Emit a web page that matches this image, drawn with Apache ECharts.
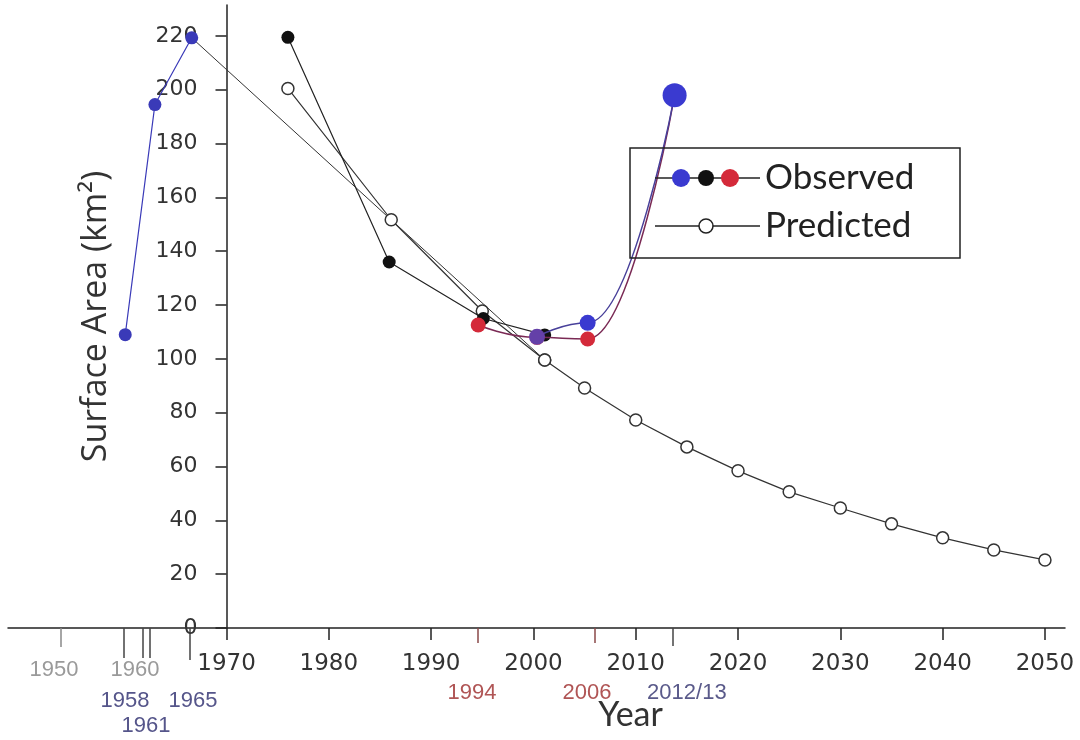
<!DOCTYPE html>
<html><head><meta charset="utf-8">
<script src="https://cdn.jsdelivr.net/npm/echarts@6/dist/echarts.min.js"></script>
<style>html,body{margin:0;padding:0;background:#fff}#c{width:1080px;height:740px}</style>
</head><body><div id="c"></div>
<script>
// x values are read in the units of the drawn year axis (1970–2050 decade scale)
const blueEarly      = [[1960.1,109],[1963.0,194.5],[1966.6,219.3]];
const predictedLink  = [[1966.6,219.3],[2001.1,99.6]];
const blackObserved  = [[1976.0,219.5],[1985.9,136],[1995.1,115],[2001.1,108.9]];
const redObserved    = [[1994.6,112.6],[2000.35,108],[2005.3,107.4],[2013.8,198]];
const blueLate       = [[2000.35,108.2],[2005.3,113.4],[2013.8,198]];
const predictedEarly = [[1976.0,200.5],[1986.1,151.7],[1995.0,117.8],[2001.1,99.6]];
const predictedYears = [2001.1,2005,2010,2015,2020,2025,2030,2035,2040,2045,2050];
const predictedVals  = [99.6,89.2,77.3,67.3,58.4,50.6,44.6,38.7,33.5,29.0,25.3];

const yTicks      = [0,20,40,60,80,100,120,140,160,180,200,220];
const decadeTicks = [1970,1980,1990,2000,2010,2020,2030,2040,2050];
const grayTickPos = [1953.82];
const grayLabelPos = [1953.14,1961.06];
const grayLabelText = ['1950','1960'];
const earlyTickPos = [1960.0,1961.84,1962.52];
const earlyLabelPos = [1960.08,1966.73];
const earlyLabelText = ['1958','1965'];
const tick1965Pos = [1966.43];
const label1961Pos = [1962.13];
const label1961Text = ['1961'];
const redTickPos = [1994.58,2006.0];
const redLabelPos = [1994.0,2005.24];
const redLabelText = ['1994','2006'];
const lateTickPos = [2013.64];
const lateLabelPos = [2015.0];
const lateLabelText = ['2012/13'];

const XMIN = 1948.64, XMAX = 2051.96;
function lookup(pos, text){
  return function(v){
    let best = 0, d = Infinity;
    pos.forEach((p,i)=>{ const dd = Math.abs(p - v); if (dd < d){ d = dd; best = i; } });
    return text[best];
  };
}
function extraAxis(tickPos, tickLen, tickColor, labelPos, labelText, labelColor, margin, font, size){
  return {
    type:'value', gridIndex:0, min:XMIN, max:XMAX, position:'bottom',
    axisLine:{show:false, onZero:false},
    splitLine:{show:false},
    axisTick:{show:tickPos.length>0, length:tickLen, customValues:tickPos,
      lineStyle:{color:tickColor, width:1.5}},
    axisLabel:{show:labelPos.length>0, customValues:labelPos, formatter:lookup(labelPos,labelText),
      color:labelColor, margin:margin, fontFamily:font, fontSize:size}
  };
}

const chart = echarts.init(document.getElementById('c'));
const base = {type:'line', xAxisIndex:0, yAxisIndex:0, symbol:'circle', animation:false};
chart.setOption({
  animation:false,
  backgroundColor:'#fff',
  grid:{left:8, right:15, top:5, bottom:112, containLabel:false, outerBoundsMode:'none'},
  xAxis:[
    {type:'value', min:XMIN, max:XMAX, position:'bottom',
     axisLine:{show:true, onZero:false, lineStyle:{color:'#222', width:1.5}},
     axisTick:{show:true, length:12, customValues:decadeTicks, lineStyle:{color:'#222', width:1.5}},
     axisLabel:{customValues:decadeTicks, formatter:v=>String(v), color:'#333', margin:25, fontFamily:'DejaVu Sans', fontSize:23},
     splitLine:{show:false},
     name:'Year', nameLocation:'middle', nameGap:70,
     nameTextStyle:{color:'#333', fontFamily:'Lato', fontSize:34, padding:[0,0,0,188]}},
    extraAxis(grayTickPos, 19, '#888', grayLabelPos, grayLabelText, '#9a9a9a', 31, 'Liberation Sans', 22),
    extraAxis(earlyTickPos, 30, '#444', earlyLabelPos, earlyLabelText, '#55558a', 62, 'Liberation Sans', 22),
    extraAxis(tick1965Pos, 32, '#444', label1961Pos, label1961Text, '#55558a', 87, 'Liberation Sans', 22),
    extraAxis(redTickPos, 15, '#8a4a4a', redLabelPos, redLabelText, '#b05555', 54, 'Liberation Sans', 22),
    extraAxis(lateTickPos, 18, '#444', lateLabelPos, lateLabelText, '#5a5a8a', 54, 'Liberation Sans', 22)
  ],
  yAxis:{type:'value', min:0, max:231.5, position:'left', offset:-218.5,
    axisLine:{show:true, onZero:false, lineStyle:{color:'#222', width:1.5}},
    axisTick:{show:true, length:11, customValues:yTicks, lineStyle:{color:'#222', width:1.5}},
    axisLabel:{customValues:yTicks, formatter:v=>String(v), color:'#333', margin:29, fontFamily:'DejaVu Sans', fontSize:22},
    splitLine:{show:false},
    name:'Surface Area (km²)', nameLocation:'middle', nameRotate:90, nameGap:113,
    nameTextStyle:{color:'#333', fontFamily:'Open Sans', fontSize:34}},
  series:[
    Object.assign({}, base, {name:'Predicted link', data:predictedLink, showSymbol:false, symbol:'none',
      lineStyle:{color:'#333', width:1}, z:2}),
    Object.assign({}, base, {name:'Predicted', data:predictedEarly, symbolSize:12,
      itemStyle:{color:'#fff', borderColor:'#333', borderWidth:1.5}, lineStyle:{color:'#333', width:1.2}, z:3}),
    Object.assign({}, base, {name:'Predicted', data:predictedYears.map((y,i)=>[y,predictedVals[i]]), symbolSize:12,
      itemStyle:{color:'#fff', borderColor:'#333', borderWidth:1.5}, lineStyle:{color:'#333', width:1.2}, z:3}),
    Object.assign({}, base, {name:'Observed', data:blackObserved, symbolSize:13,
      itemStyle:{color:'#111'}, lineStyle:{color:'#222', width:1.2}, z:4}),
    Object.assign({}, base, {name:'Observed', data:blueEarly, symbolSize:13,
      itemStyle:{color:'#3a3ab8'}, lineStyle:{color:'#3a3ab8', width:1.2}, z:4}),
    Object.assign({}, base, {name:'Observed', data:redObserved, symbolSize:15, smooth:0.5, smoothMonotone:'x',
      itemStyle:{color:'#d42a3a'}, lineStyle:{color:'#7a2a55', width:1.5}, z:5}),
    Object.assign({}, base, {name:'Observed',
      data:blueLate.map((p,i)=> i===0 ? {value:p, itemStyle:{color:'#6440a8'}} : {value:p}),
      symbolSize:(v,p)=> p.dataIndex===2 ? 24 : 16, smooth:0.5, smoothMonotone:'x',
      itemStyle:{color:'#3a3ad0'}, lineStyle:{color:'#48409a', width:1.5}, z:6})
  ],
  graphic:[
    {type:'rect', shape:{x:630,y:148,width:330,height:110}, style:{fill:'none', stroke:'#222', lineWidth:1.5}, z:10},
    {type:'line', shape:{x1:655,y1:178,x2:760,y2:178}, style:{stroke:'#222', lineWidth:1.5}, z:10},
    {type:'circle', shape:{cx:681,cy:178,r:9}, style:{fill:'#3a3ad0'}, z:11},
    {type:'circle', shape:{cx:706,cy:178,r:8}, style:{fill:'#111'}, z:11},
    {type:'circle', shape:{cx:730,cy:178,r:9}, style:{fill:'#d42a3a'}, z:11},
    {type:'text', x:765, y:178, style:{text:'Observed', fill:'#222', font:'35px Lato', verticalAlign:'middle'}, z:11},
    {type:'line', shape:{x1:655,y1:226,x2:760,y2:226}, style:{stroke:'#222', lineWidth:1.5}, z:10},
    {type:'circle', shape:{cx:706,cy:226,r:7}, style:{fill:'#fff', stroke:'#222', lineWidth:1.5}, z:11},
    {type:'text', x:765, y:226, style:{text:'Predicted', fill:'#222', font:'35px Lato', verticalAlign:'middle'}, z:11}
  ]
});
</script></body></html>
